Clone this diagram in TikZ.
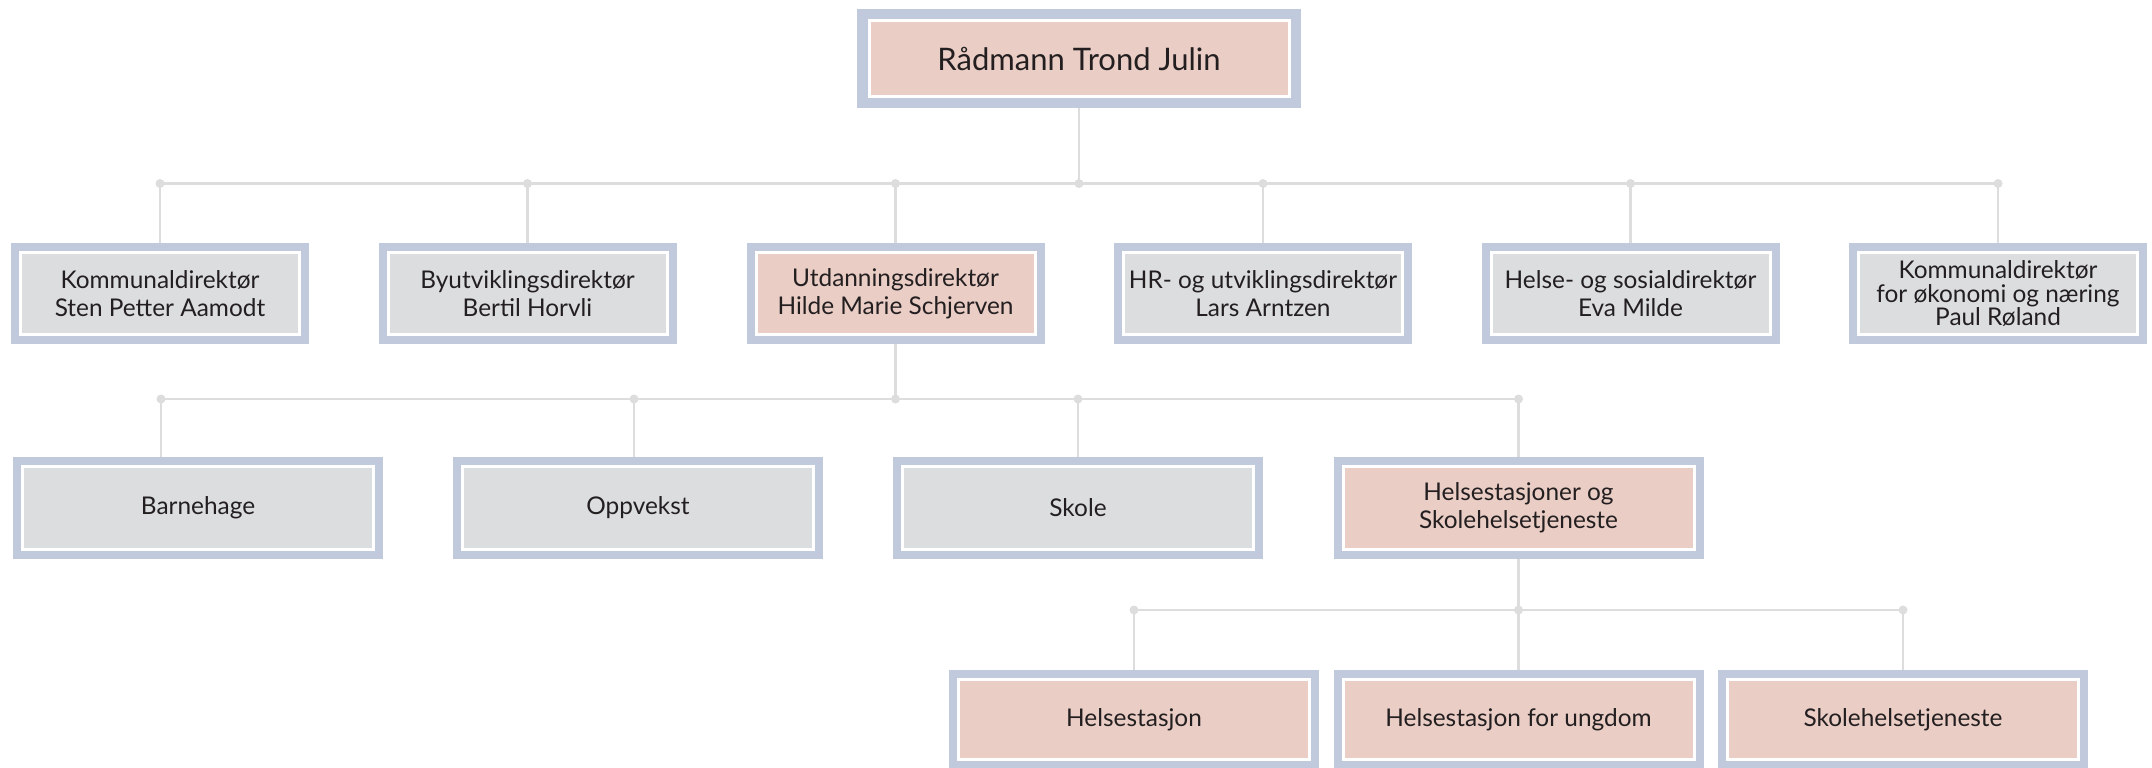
\documentclass[tikz,border=0pt]{standalone}
\usepackage{fontspec}
\setmainfont{Lato}
\definecolor{band}{RGB}{193,201,220}
\definecolor{pinkfill}{RGB}{234,205,197}
\definecolor{grayfill}{RGB}{220,221,223}
\definecolor{linec}{RGB}{221,221,222}
\definecolor{ink}{RGB}{35,31,32}
\begin{document}
\begin{tikzpicture}[x=1pt,y=-1pt,
  orgbox/.style 2 args={rectangle, inner sep=0pt, fill=band, text=ink, align=center,
    font={\fontsize{24.4}{28}\selectfont},
    path picture={
      \fill[white] ([shift={(#2,-#2)}]path picture bounding box.north west) rectangle ([shift={(-#2,#2)}]path picture bounding box.south east);
      \fill[#1] ([shift={(#2+3pt,-#2-3pt)}]path picture bounding box.north west) rectangle ([shift={(-#2-3pt,#2+3pt)}]path picture bounding box.south east);
    }},
  lvone/.style={orgbox={#1}{8pt}, minimum width=298pt, minimum height=101pt},
  lvtwo/.style={orgbox={#1}{8pt}, minimum width=370pt, minimum height=102pt},
  lvthree/.style={orgbox={#1}{8pt}, minimum width=370pt, minimum height=99pt},
  conn/.style={draw=linec, line width=2.5pt},
  jdot/.style={fill=linec}
]
\useasboundingbox (0,0) rectangle (2152,768);

% top
\node[orgbox={pinkfill}{10.5pt}, minimum width=444pt, minimum height=99pt,
  font={\fontsize{31}{36}\selectfont}] (top) at (1079,58.5) {Rådmann Trond Julin};

% level 1
\node[lvone=grayfill] (a1) at (160,293.5) {Kommunaldirektør\\Sten Petter Aamodt};
\node[lvone=grayfill] (a2) at (527.5,293.5) {Byutviklingsdirektør\\Bertil Horvli};
\node[lvone=pinkfill] (a3) at (895.5,293.5) {Utdanningsdirektør\\Hilde Marie Schjerven};
\node[lvone=grayfill] (a4) at (1263,293.5) {HR- og utviklingsdirektør\\Lars Arntzen};
\node[lvone=grayfill] (a5) at (1630.5,293.5) {Helse- og sosialdirektør\\Eva Milde};
\node[lvone=grayfill, font={\fontsize{24.4}{23.3}\selectfont}] (a6) at (1998,293.5) {Kommunaldirektør\\for økonomi og næring\\Paul Røland};

% level 2
\node[lvtwo=grayfill] (b1) at (198,508) {Barnehage};
\node[lvtwo=grayfill] (b2) at (638,508) {Oppvekst};
\node[lvtwo=grayfill] (b3) at (1078,508) {Skole};
\node[lvtwo=pinkfill] (b4) at (1518.5,508) {Helsestasjoner og\\Skolehelsetjeneste};

% level 3
\node[lvthree=pinkfill] (c1) at (1134,719.5) {Helsestasjon};
\node[lvthree=pinkfill] (c2) at (1518.5,719.5) {Helsestasjon for ungdom};
\node[lvthree=pinkfill] (c3) at (1903,719.5) {Skolehelsetjeneste};

% junction coordinates
\coordinate (h0) at (1079,183.5);
\coordinate (h1) at (160,183.5);
\coordinate (h2) at (527.5,183.5);
\coordinate (h3) at (895.5,183.5);
\coordinate (h4) at (1263,183.5);
\coordinate (h5) at (1630.5,183.5);
\coordinate (h6) at (1998,183.5);

\coordinate (k0) at (895.5,399);
\coordinate (k1) at (161,399);
\coordinate (k2) at (634,399);
\coordinate (k3) at (1078,399);
\coordinate (k4) at (1518.5,399);

\coordinate (m0) at (1518.5,610);
\coordinate (m1) at (1134,610);
\coordinate (m3) at (1903,610);

% connectors level 1
\draw[conn] (h1) -- (h6);
\draw[conn] (top.south) -- (h0);
\foreach \i in {1,...,6} { \draw[conn] (h\i) -- (a\i.north); }

% connectors level 2
\draw[conn] (k1) -- (k4);
\draw[conn] (a3.south) -- (k0);
\draw[conn] (k1) -- (k1 |- b1.north);
\draw[conn] (k2) -- (k2 |- b2.north);
\draw[conn] (k3) -- (b3.north);
\draw[conn] (k4) -- (b4.north);

% connectors level 3
\draw[conn] (m1) -- (m3);
\draw[conn] (b4.south) -- (m0);
\draw[conn] (m1) -- (c1.north);
\draw[conn] (m0) -- (c2.north);
\draw[conn] (m3) -- (c3.north);

% dots
\foreach \p in {h0,h1,h2,h3,h4,h5,h6,k0,k1,k2,k3,k4,m0,m1,m3} { \fill[jdot] (\p) circle (4.5pt); }
\end{tikzpicture}
\end{document}
